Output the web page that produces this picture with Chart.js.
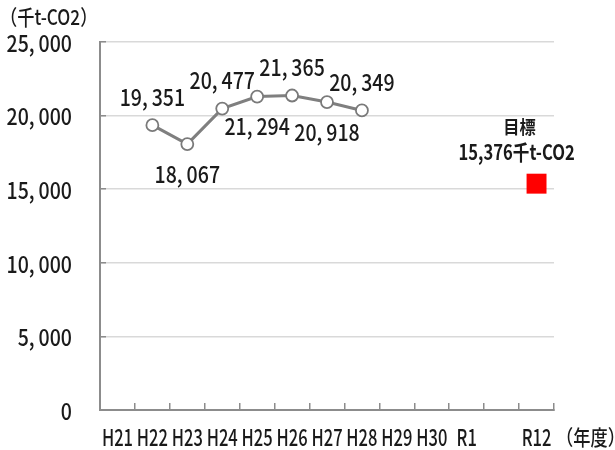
<!DOCTYPE html>
<html>
<head>
<meta charset="utf-8">
<script src="https://cdn.jsdelivr.net/npm/chart.js@4/dist/chart.umd.min.js"></script>
<style>
  html, body { margin: 0; padding: 0; background: #fff; }
  #wrap { width: 615px; height: 450px; position: relative; }
</style>
</head>
<body>
<div id="wrap"><canvas id="chart" width="615" height="450"></canvas></div>
<script>
// データ
const years = ['H21', 'H22', 'H23', 'H24', 'H25', 'H26', 'H27', 'H28', 'H29', 'H30', 'R1', '', 'R12'];
const emissions = [null, 19351, 18067, 20477, 21294, 21365, 20918, 20349, null, null, null, null, null];
const labelPos = [null, 'above', 'below', 'above', 'below', 'above', 'below', 'above'];
const target = [null, null, null, null, null, null, null, null, null, null, null, null, 15376];
const yTicks = [0, 5000, 10000, 15000, 20000, 25000];

const JFONT = "'Noto Sans CJK JP', sans-serif";
const INK = '#1a1a1a';

function fmt(v) {
  // カンマの後に少し隙間
  return v.toLocaleString('en-US').replace(/,/g, ',\u2009');
}

// 横に詰めた文字を描く
function drawText(ctx, text, x, y, size, sx, align, weight) {
  ctx.save();
  ctx.translate(x, y);
  ctx.scale(sx, 1);
  ctx.font = (weight || 500) + ' ' + size + 'px ' + JFONT;
  ctx.textAlign = align || 'center';
  ctx.textBaseline = 'middle';
  ctx.fillStyle = INK;
  ctx.fillText(text, 0, 0);
  ctx.restore();
}

const textLayer = {
  id: 'textLayer',
  afterDraw(chart) {
    const ctx = chart.ctx;
    const xs = chart.scales.x;
    const ys = chart.scales.y;

    // 目盛ラベル
    yTicks.forEach(v => {
      drawText(ctx, fmt(v), 72, ys.getPixelForValue(v) + 1, 23, 0.85, 'right');
    });
    years.forEach((lab, i) => {
      if (!lab) return;
      drawText(ctx, lab, xs.getPixelForValue(i), 437, 23, 0.72, 'center');
    });

    // 値ラベル
    const meta = chart.getDatasetMeta(0);
    meta.data.forEach((pt, i) => {
      const v = emissions[i];
      if (v == null) return;
      const dy = labelPos[i] === 'above' ? -28 : 30;
      drawText(ctx, fmt(v), pt.x, pt.y + dy, 23, 0.85, 'center');
    });

    // 目標
    const tm = chart.getDatasetMeta(1).data[12];
    drawText(ctx, '目標', tm.x - 17, tm.y - 57, 18, 0.9, 'center', 700);
    drawText(ctx, '15,376千t-CO2', tm.x - 78, tm.y - 32, 21, 0.79, 'left', 700);

    // 単位
    drawText(ctx, '（千t-CO2）', 0, 17, 21, 0.82, 'left');
    drawText(ctx, '（年度）', 556, 437, 21, 0.82, 'left');
  }
};

new Chart(document.getElementById('chart'), {
  type: 'line',
  data: {
    labels: years,
    datasets: [{
      data: emissions,
      borderColor: '#7f7f7f',
      borderWidth: 3,
      pointRadius: 6,
      pointBackgroundColor: '#fff',
      pointBorderColor: '#7a7a7a',
      pointBorderWidth: 1.8,
      tension: 0,
      spanGaps: false
    }, {
      data: target,
      showLine: false,
      pointStyle: 'rect',
      pointRadius: 14.1,
      pointBackgroundColor: '#ff0000',
      pointBorderColor: '#ff0000',
      pointBorderWidth: 0
    }]
  },
  options: {
    responsive: false,
    animation: false,
    events: [],
    layout: { padding: { top: 42, right: 61, bottom: 0, left: 0 } },
    plugins: {
      legend: { display: false },
      tooltip: { enabled: false }
    },
    scales: {
      x: {
        offset: true,
        grid: {
          display: true,
          offset: true,
          drawOnChartArea: false,
          drawTicks: true,
          tickLength: -7,
          color: '#8c8c8c',
          lineWidth: 1.5
        },
        border: { color: '#8c8c8c', width: 2 },
        ticks: { display: false, autoSkip: false },
        afterFit(scale) { scale.height = 40; }
      },
      y: {
        min: 0,
        max: 25000,
        afterBuildTicks(scale) { scale.ticks = yTicks.map(v => ({ value: v })); },
        grid: {
          color: '#d9d9d9',
          lineWidth: 1.5,
          drawTicks: true,
          tickLength: -6,
          tickColor: '#8c8c8c'
        },
        border: { color: '#8c8c8c', width: 2 },
        ticks: { display: false },
        afterFit(scale) { scale.width = 100; }
      }
    }
  },
  plugins: [textLayer]
});
</script>
</body>
</html>
